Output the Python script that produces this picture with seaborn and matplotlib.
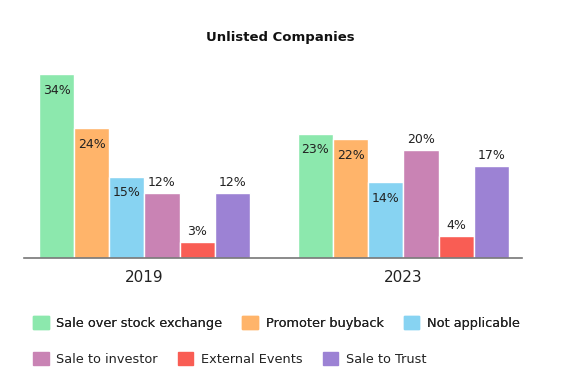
import matplotlib
matplotlib.use("Agg")
import matplotlib.pyplot as plt
import seaborn as sns
import pandas as pd

years = ["2019", "2023"]
categories = ["Sale over stock exchange", "Promoter buyback", "Not applicable",
              "Sale to investor", "External Events", "Sale to Trust"]
values_2019 = [34, 24, 15, 12, 3, 12]
values_2023 = [23, 22, 14, 20, 4, 17]
colors = ["#8CE8AD", "#FFB46A", "#87D3F2", "#C983B4", "#F95D54", "#9C82D4"]
inside = [True, True, True, False, False, False]

rows = []
for y, vals in zip(years, [values_2019, values_2023]):
    for c, v in zip(categories, vals):
        rows.append({"year": y, "category": c, "value": v})
df = pd.DataFrame(rows)

sns.set_theme(style="white")
plt.rcParams["font.family"] = ["DejaVu Sans"]

fig = plt.figure(figsize=(5.61, 3.87), dpi=100)
ax = fig.add_axes([24/561, 1-258/387, (522-24)/561, (258-69)/387])

sns.barplot(data=df, x="year", y="value", hue="category", hue_order=categories,
            order=years, palette=colors, width=0.815, ax=ax, legend=False,
            edgecolor="white", linewidth=1, saturation=1)

ax.set_xlim(-0.465, 1.458)
ax.set_ylim(0, 35)
for s in ["top", "right", "left"]:
    ax.spines[s].set_visible(False)
ax.spines["bottom"].set_color("#777777")
ax.spines["bottom"].set_linewidth(1.2)
ax.set_yticks([])
ax.set_xlabel("")
ax.set_ylabel("")
ax.tick_params(axis="x", length=0, pad=9, labelsize=11, labelcolor="#222222")

for i, cont in enumerate(ax.containers):
    for bar in cont:
        h = bar.get_height()
        x = bar.get_x() + bar.get_width()/2
        if inside[i]:
            off = -11.5
        else:
            off = 7.5
        ax.annotate(f"{int(round(h))}%", (x, h), xytext=(0, off),
                    textcoords="offset points", ha="center", va="center",
                    fontsize=9, color="#222222")

fig.text(0.5, 1-37/387, "Unlisted Companies", ha="center", va="center",
         fontsize=9.5, fontweight="bold", color="#111111")

handles = [plt.Rectangle((0, 0), 1, 1, color=c) for c in colors]
common = dict(ncol=3, loc="center left", frameon=False, fontsize=9.3,
              handlelength=1.2, handleheight=1.2, handletextpad=0.6,
              columnspacing=1.55, labelcolor="#222222", borderaxespad=0,
              borderpad=0)
leg1 = fig.legend(handles[:3], categories[:3],
                  bbox_to_anchor=(33/561, 1-323/387), **common)
leg2 = fig.legend(handles[3:], categories[3:],
                  bbox_to_anchor=(33/561, 1-359/387), **common)
fig.add_artist(leg1)

fig.savefig("out.png", dpi=100)
